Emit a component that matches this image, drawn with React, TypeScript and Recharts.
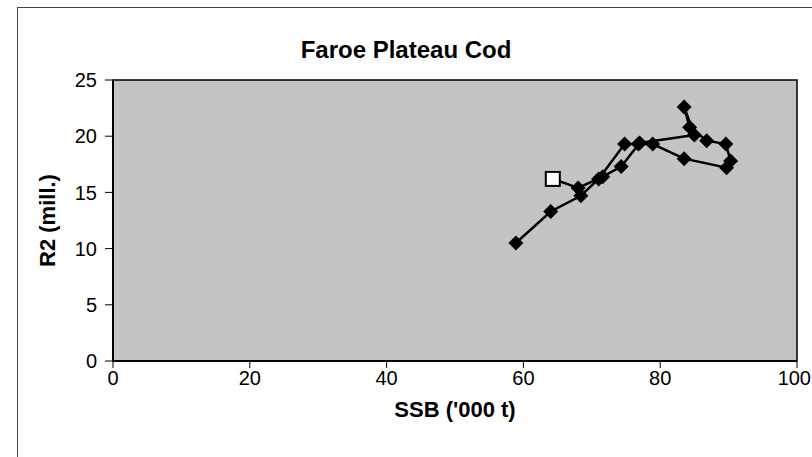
import React from 'react';
import {
  ScatterChart,
  Scatter,
  XAxis,
  YAxis,
  CartesianGrid,
  ReferenceArea,
  Label,
} from 'recharts';

// SSB ('000 t) and R2 (mill.) in year order; the last year is drawn as an open square
const ssbValues = [
  58.9, 64.0, 68.4, 71.0, 74.8, 76.8, 78.9, 83.5, 89.7, 90.3, 89.6, 86.8, 84.3,
  83.5, 85.0, 77.0, 74.3, 71.6, 68.0, 64.3,
];
const recruitValues = [
  10.5, 13.3, 14.7, 16.2, 19.3, 19.3, 19.3, 18.0, 17.2, 17.8, 19.3, 19.6, 20.8,
  22.6, 20.1, 19.4, 17.3, 16.4, 15.4, 16.2,
];

const xTicks = [0, 20, 40, 60, 80, 100];
const yTicks = [0, 5, 10, 15, 20, 25];

const points = ssbValues.map((ssb, i) => ({
  ssb,
  r2: recruitValues[i],
  last: i === ssbValues.length - 1,
}));

const font = '"Liberation Sans", Arial, sans-serif';

const Marker = (props: any) => {
  const { cx, cy, payload } = props;
  if (cx == null || cy == null) return null;
  if (payload.last) {
    return (
      <rect x={cx - 7} y={cy - 7} width={14} height={14} fill="#fff" stroke="#000" strokeWidth={2} />
    );
  }
  const r = 7.5;
  return (
    <path
      d={`M${cx},${cy - r}L${cx + r},${cy}L${cx},${cy + r}L${cx - r},${cy}Z`}
      fill="#000"
    />
  );
};

// last label sits at the page edge, so keep it inside
const XTick = (props: any) => {
  const { x, y, payload } = props;
  const isLast = payload.value === xTicks[xTicks.length - 1];
  return (
    <text
      x={isLast ? 811 : x}
      y={y}
      dy="0.71em"
      textAnchor={isLast ? 'end' : 'middle'}
      fill="#000"
      fontSize={20}
      fontFamily={font}
    >
      {payload.value}
    </text>
  );
};

const App: React.FC = () => {
  return (
    <div
      style={{
        position: 'fixed',
        left: 0,
        top: 0,
        width: 812,
        height: 457,
        overflow: 'hidden',
        background: '#fff',
        fontFamily: font,
      }}
    >
      <div
        style={{
          position: 'absolute',
          left: 17,
          top: 7,
          width: 900,
          height: 600,
          border: '1px solid #444',
        }}
      />
      <div
        style={{
          position: 'absolute',
          left: 0,
          width: 900,
          top: 36,
          textAlign: 'center',
          fontWeight: 'bold',
          fontSize: 24,
          color: '#000',
          paddingRight: 88,
          boxSizing: 'border-box',
        }}
      >
        Faroe Plateau Cod
      </div>
      <div style={{ position: 'absolute', left: 0, top: 0 }}>
        <ScatterChart
          width={812}
          height={457}
          margin={{ top: 80, right: 15, bottom: 0, left: 0 }}
        >
          <CartesianGrid fill="#c4c4c4" horizontal={false} vertical={false} />
          <XAxis
            type="number"
            dataKey="ssb"
            domain={[0, 100]}
            ticks={xTicks}
            height={96}
            interval={0}
            axisLine={{ stroke: '#000', strokeWidth: 2 }}
            tickLine={{ stroke: '#000', strokeWidth: 1 }}
            tickSize={7}
            tickMargin={3}
            tick={<XTick />}
          >
            <Label
              value="SSB ('000 t)"
              position="insideBottom"
              offset={40}
              style={{ fill: '#000', fontSize: 22, fontWeight: 'bold', fontFamily: font }}
            />
          </XAxis>
          <YAxis
            type="number"
            dataKey="r2"
            domain={[0, 25]}
            ticks={yTicks}
            width={113}
            interval={0}
            axisLine={{ stroke: '#000', strokeWidth: 2 }}
            tickLine={{ stroke: '#000', strokeWidth: 1 }}
            tickSize={8}
            tickMargin={8}
            tick={{ fill: '#000', fontSize: 20, fontFamily: font }}
          >
            <Label
              value="R2 (mill.)"
              angle={-90}
              position="insideLeft"
              offset={47}
              style={{ fill: '#000', fontSize: 22, fontWeight: 'bold', fontFamily: font, textAnchor: 'middle' }}
            />
          </YAxis>
          <ReferenceArea x1={0} x2={100} y1={0} y2={25} fill="none" stroke="#000" strokeWidth={1.5} />
          <Scatter
            data={points}
            line={{ stroke: '#000', strokeWidth: 2.5 }}
            shape={<Marker />}
            isAnimationActive={false}
          />
        </ScatterChart>
      </div>
    </div>
  );
};

export default App;
